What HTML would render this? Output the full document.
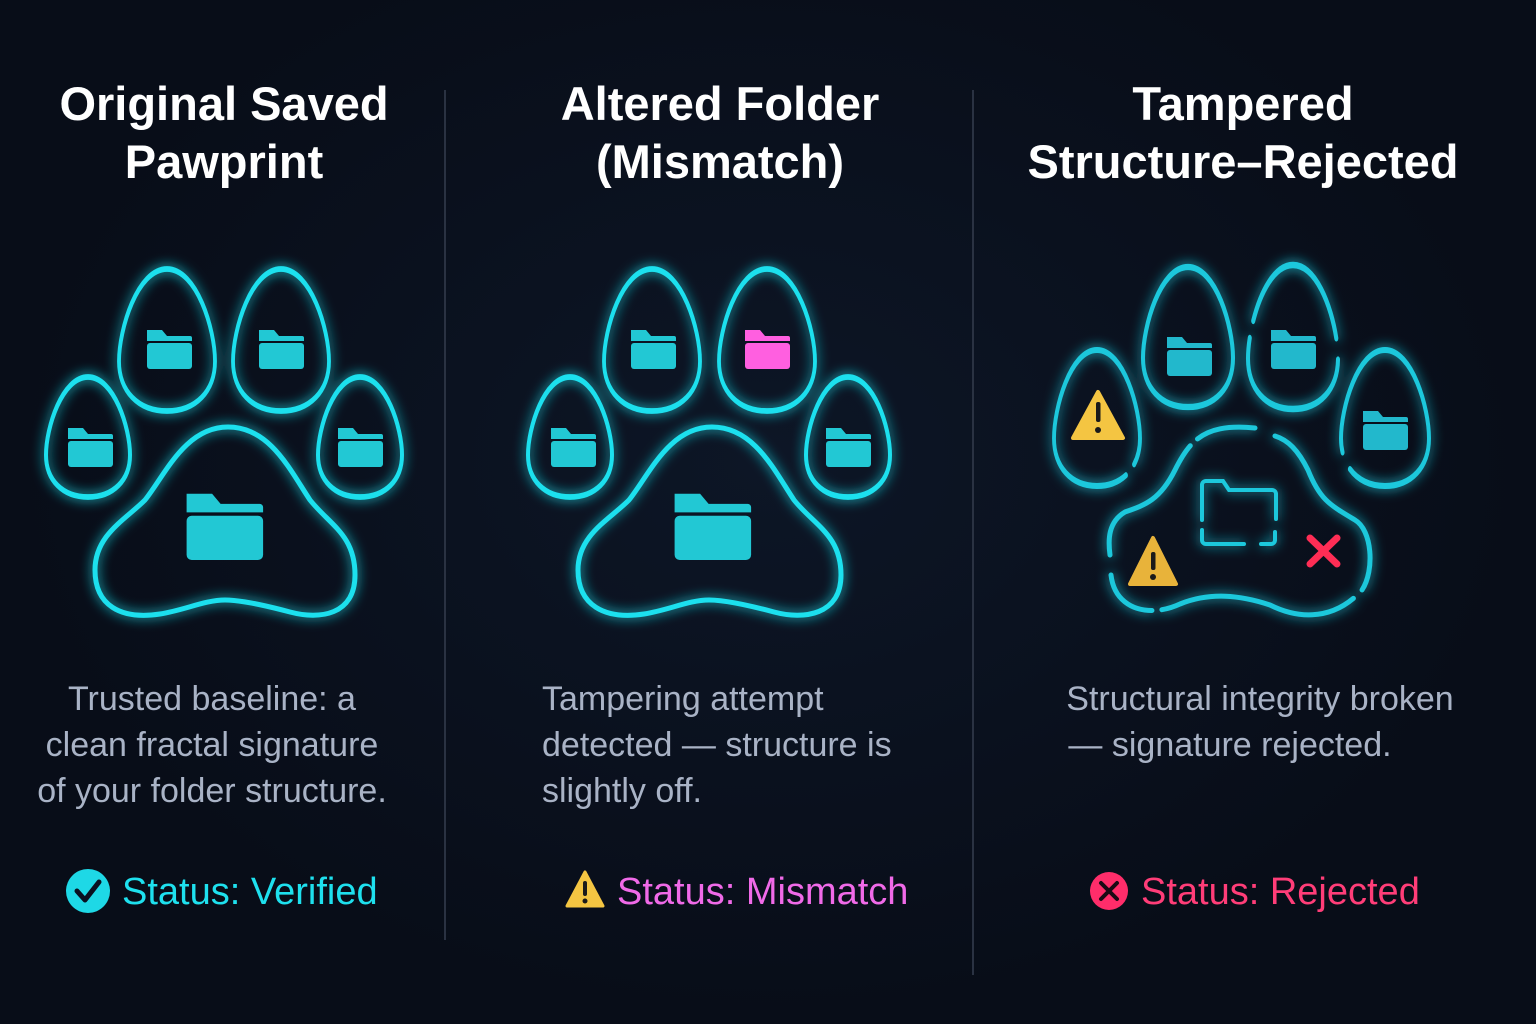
<!DOCTYPE html>
<html><head><meta charset="utf-8"><style>
html,body{margin:0;padding:0;background:#080d18;}
body{width:1536px;height:1024px;overflow:hidden;position:relative;font-family:"Liberation Sans",sans-serif;
background:radial-gradient(ellipse at 50% 45%,#0d1626 0%,#080d18 70%);}
.t{position:absolute;color:#fff;font-size:47px;font-weight:bold;text-align:center;line-height:58px;}
.b{position:absolute;color:#a9b3c6;font-size:34px;line-height:46px;}
.s{position:absolute;font-size:38px;line-height:40px;white-space:nowrap;}
</style></head><body>
<svg width="1536" height="1024" style="position:absolute;left:0;top:0">
<defs>
<filter id="g" x="-30%" y="-30%" width="160%" height="160%"><feGaussianBlur stdDeviation="6" result="b"/><feMerge><feMergeNode in="b"/><feMergeNode in="SourceGraphic"/></feMerge></filter>
<path id="egg" d="M0,-1 C0.62,-1 1,-0.15 1,0.3 C1,0.72 0.6,1 0,1 C-0.6,1 -1,0.72 -1,0.3 C-1,-0.15 -0.62,-1 0,-1Z"/>
<g id="fold"><path d="M-22,-19 h15 l5,6 h23 a2,2 0 0 1 2,2 v3 h-45 z" fill="currentColor"/><rect x="-22" y="-6" width="45" height="26" rx="3" fill="currentColor"/></g>
</defs>
<line x1="445" y1="90" x2="445" y2="940" stroke="#2a3242" stroke-width="2"/>
<line x1="973" y1="90" x2="973" y2="975" stroke="#2a3242" stroke-width="2"/>

<g fill="none" stroke="#1ee0ee" stroke-width="5" filter="url(#g)">
<use href="#egg" transform="translate(88,437) scale(42,60)" style="stroke-width:0.095"/>
<use href="#egg" transform="translate(167,340) scale(48,71)" style="stroke-width:0.08"/>
<use href="#egg" transform="translate(281,340) scale(48,71)" style="stroke-width:0.08"/>
<use href="#egg" transform="translate(360,437) scale(42,60)" style="stroke-width:0.095"/>
<path d="M228,427 C270,427 290,470 310,500 C330,525 355,535 355,575 C355,615 320,620 290,612 C260,604 240,600 225,600 C205,600 185,610 160,614 C120,620 95,605 95,570 C95,535 125,520 145,500 C165,475 185,427 228,427Z"/>
</g>
<g color="#22c8d4">
<use href="#fold" transform="translate(90,447)"/>
<use href="#fold" transform="translate(169,349)"/>
<use href="#fold" transform="translate(281,349)"/>
<use href="#fold" transform="translate(360,447)"/>
<use href="#fold" transform="translate(224,526) scale(1.7)"/>
</g>

<g transform="translate(484,0)">
<g fill="none" stroke="#1ee0ee" stroke-width="5" filter="url(#g)">
<use href="#egg" transform="translate(86,437) scale(42,60)" style="stroke-width:0.095"/>
<use href="#egg" transform="translate(168,340) scale(48,71)" style="stroke-width:0.08"/>
<use href="#egg" transform="translate(283,340) scale(48,71)" style="stroke-width:0.08"/>
<use href="#egg" transform="translate(364,437) scale(42,60)" style="stroke-width:0.095"/>
<path d="M228,427 C270,427 290,470 310,500 C330,525 357,535 357,575 C357,615 320,620 290,612 C260,604 240,600 225,600 C205,600 185,610 160,614 C120,620 94,605 94,570 C94,535 125,520 145,500 C165,475 185,427 228,427Z"/>
</g>
<g color="#22c8d4">
<use href="#fold" transform="translate(89,447)"/>
<use href="#fold" transform="translate(169,349)"/>
<use href="#fold" transform="translate(364,447)"/>
<use href="#fold" transform="translate(228,526) scale(1.7)"/>
</g>
<use href="#fold" transform="translate(283,349)" color="#ff5fe0"/>
</g>

<g fill="none" stroke="#1cc8dc" stroke-width="5" stroke-linecap="round" filter="url(#g)">
<use href="#egg" transform="translate(1097,418) scale(43,68)" style="stroke-width:0.09;stroke-dasharray:2.2 0.25 4 0.3"/>
<use href="#egg" transform="translate(1188,337) scale(45,70)" style="stroke-width:0.09"/>
<use href="#egg" transform="translate(1293,337) scale(45,72)" style="stroke-width:0.09;stroke-dasharray:1.5 0.3 3 0.25"/>
<use href="#egg" transform="translate(1385,418) scale(44,68)" style="stroke-width:0.09;stroke-dasharray:4 0.3"/>
<path d="M1255,428 C1205,423 1190,440 1175,470 C1160,500 1145,505 1125,512 C1108,522 1108,540 1110,555 M1111,575 C1115,610 1150,618 1180,604 C1210,592 1240,595 1270,605 C1300,620 1335,620 1362,590 C1375,570 1372,530 1355,520 C1330,505 1320,500 1308,470 C1298,450 1288,440 1275,436" stroke-dasharray="60 10 200 12 300"/>
<path d="M1202,520 v-35 a4,4 0 0 1 4,-4 h17 l6,9 h43 a4,4 0 0 1 4,4 v25 M1275,532 v8 a4,4 0 0 1 -4,4 h-10 M1244,544 h-38 a4,4 0 0 1 -4,-4 v-10" stroke-width="4"/>
</g>
<g color="#22b8cc">
<use href="#fold" transform="translate(1189,356)"/>
<use href="#fold" transform="translate(1293,349)"/>
<use href="#fold" transform="translate(1385,430)"/>
</g>
<g>
<path d="M1098,392 L1123,438 L1073,438Z" fill="#f4c542" stroke="#f4c542" stroke-width="4" stroke-linejoin="round"/>
<rect x="1096" y="402" width="4.5" height="20" rx="2" fill="#1a1a1a"/><circle cx="1098" cy="430" r="3" fill="#1a1a1a"/>
<path d="M1153,538 L1176,584 L1130,584Z" fill="#e8b33a" stroke="#e8b33a" stroke-width="4" stroke-linejoin="round"/>
<rect x="1151" y="552" width="4.5" height="18" rx="2" fill="#1a1a1a"/><circle cx="1153" cy="577" r="3" fill="#1a1a1a"/>
<path d="M1310,538 L1337,564 M1337,538 L1310,564" stroke="#ff2d55" stroke-width="7" stroke-linecap="round"/>
</g>

<circle cx="88" cy="891" r="22" fill="#1ed8e6"/>
<path d="M77,891 L85,900 L99,882" fill="none" stroke="#0a1020" stroke-width="5" stroke-linecap="round" stroke-linejoin="round"/>
<path d="M585,872 L603,906 L567,906Z" fill="#f4c542" stroke="#f4c542" stroke-width="3" stroke-linejoin="round"/>
<rect x="583" y="881" width="4" height="15" rx="2" fill="#1a1a1a"/><circle cx="585" cy="901" r="2.5" fill="#1a1a1a"/>
<circle cx="1109" cy="891" r="19" fill="#ff2d6a"/>
<path d="M1101,883 L1117,899 M1117,883 L1101,899" stroke="#1a0a14" stroke-width="4" stroke-linecap="round"/>
</svg>

<div class="t" style="left:24px;width:400px;top:75px">Original Saved<br>Pawprint</div>
<div class="t" style="left:520px;width:400px;top:75px">Altered Folder<br>(Mismatch)</div>
<div class="t" style="left:1003px;width:480px;top:75px">Tampered<br>Structure–Rejected</div>

<div class="b" style="left:0px;width:424px;top:676px;text-align:center">Trusted baseline: a<br>clean fractal signature<br>of your folder structure.</div>
<div class="b" style="left:542px;width:420px;top:676px">Tampering attempt<br>detected — structure is<br>slightly off.</div>
<div class="b" style="left:1030px;width:460px;top:676px;text-align:center">Structural integrity broken<br><span style="margin-left:-60px">— signature rejected.</span></div>

<div class="s" style="left:122px;top:872px;color:#1ee0ee">Status: Verified</div>
<div class="s" style="left:617px;top:872px;color:#f06ae8">Status: Mismatch</div>
<div class="s" style="left:1141px;top:872px;color:#ff3d78">Status: Rejected</div>
</body></html>
